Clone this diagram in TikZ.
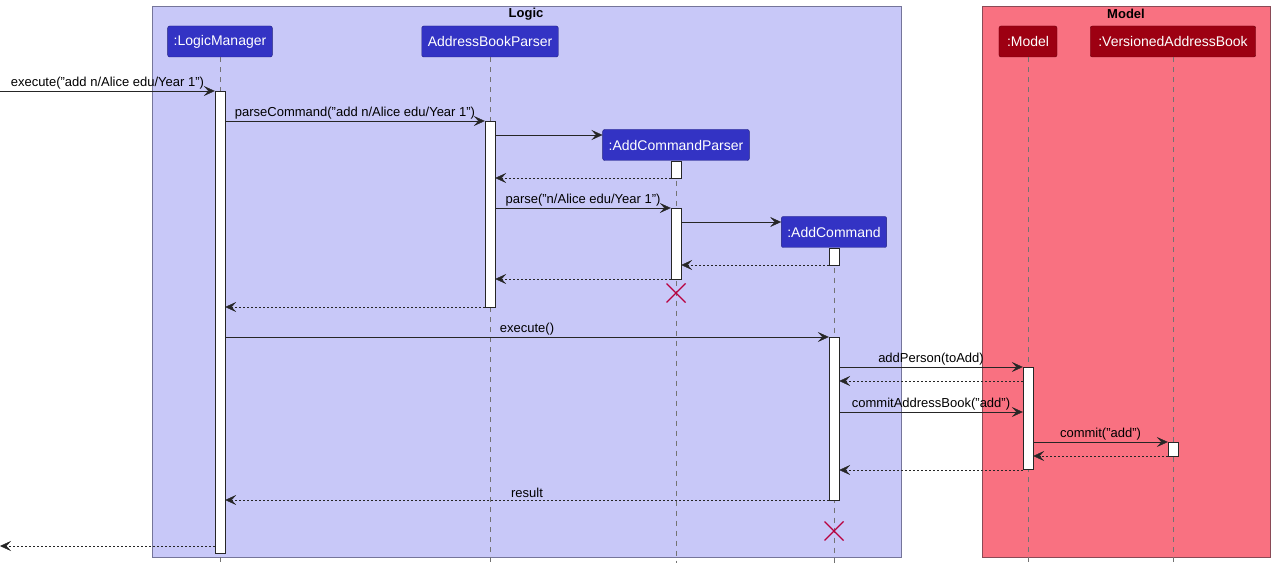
\documentclass[tikz,border=0pt]{standalone}
\usepackage{fontspec}
\setmainfont{Liberation Sans}
\usetikzlibrary{arrows.meta,positioning}

\definecolor{logicBg}{HTML}{C8C8F8}
\definecolor{logicLine}{HTML}{75759A}
\definecolor{logicPart}{HTML}{3333C4}
\definecolor{logicPartLine}{HTML}{20207E}
\definecolor{modelBg}{HTML}{F97181}
\definecolor{modelLine}{HTML}{8A4A56}
\definecolor{modelPart}{HTML}{9D0012}
\definecolor{modelPartLine}{HTML}{6A000C}
\definecolor{xRed}{HTML}{B8003E}

\tikzset{
  part/.style={text=white, rounded corners=2pt, minimum height=31pt, inner xsep=6pt,
    font=\fontsize{14}{16}\selectfont},
  lpart/.style={part, fill=logicPart, draw=logicPartLine},
  mpart/.style={part, fill=modelPart, draw=modelPartLine, inner xsep=8pt},
  act/.style={draw=black!85, fill=white, minimum width=10pt, inner sep=0pt, anchor=north},
  life/.style={draw=black!55, dash pattern=on 5pt off 5pt},
  msg/.style={draw=black!85, -{Stealth[length=11pt,width=10pt,inset=4.5pt]}},
  ret/.style={msg, dash pattern=on 2pt off 2pt},
  lbl/.style={above, font=\fontsize{13}{15}\selectfont, inner sep=2pt},
  destroy/.style={draw=xRed, line width=1.4pt},
  grptitle/.style={font=\bfseries\fontsize{13}{15}\selectfont}
}

\begin{document}
\begin{tikzpicture}[x=1pt,y=-1pt]
\useasboundingbox (0,0) rectangle (1275,569);

% groups
\draw[fill=logicBg, draw=logicLine] (152,6) rectangle (901,557);
\draw[fill=modelBg, draw=modelLine] (982,6) rectangle (1270,557);
\node[grptitle] (logicT) at (526,14) {Logic};
\node[grptitle] (modelT) at (1126,14) {Model};

% participants
\node[lpart] (lm) at (220,41.5) {:LogicManager};
\node[lpart] (abp) at (490,41.5) {AddressBookParser};
\node[lpart] (acp) at (676,145) {:AddCommandParser};
\node[lpart] (ac) at (834,232) {:AddCommand};
\node[mpart] (m) at (1028,41.5) {:Model};
\node[mpart] (vab) at (1173,41.5) {:VersionedAddressBook};

% lifelines
\foreach \p in {lm,abp,acp,ac,m,vab}
  \draw[life] (\p.south) -- (\p.south |- 0,563);

% activations
\node[act, minimum height=462pt] (lmAct) at (220,91) {};
\node[act, minimum height=186pt] (abpAct) at (490,121) {};
\node[act, minimum height=17pt] (acpAct1) at (676,161) {};
\node[act, minimum height=71pt] (acpAct2) at (676,208) {};
\node[act, minimum height=17pt] (acAct1) at (834,248) {};
\node[act, minimum height=163pt] (acAct2) at (834,337) {};
\node[act, minimum height=102pt] (mAct) at (1028,367) {};
\node[act, minimum height=14pt] (vabAct) at (1173,442) {};

\coordinate (in) at (0,91);
\coordinate (out) at (0,546);

% messages
\draw[msg] (in) -- node[lbl] {execute("add n/Alice edu/Year 1")} (lmAct.west |- in);
\draw[msg] (lmAct.east |- 0,121) -- node[lbl] {parseCommand("add n/Alice edu/Year 1")} (abpAct.west |- 0,121);
\draw[msg] (abpAct.east |- 0,135) -- (acp.west |- 0,135);
\draw[ret] (acpAct1.west |- 0,178) -- (abpAct.east |- 0,178);
\draw[msg] (abpAct.east |- 0,208) -- node[lbl] {parse("n/Alice edu/Year 1")} (acpAct2.west |- 0,208);
\draw[msg] (acpAct2.east |- 0,222) -- (ac.west |- 0,222);
\draw[ret] (acAct1.west |- 0,265) -- (acpAct2.east |- 0,265);
\draw[ret] (acpAct2.west |- 0,279) -- (abpAct.east |- 0,279);
\draw[ret] (abpAct.west |- 0,307) -- (lmAct.east |- 0,307);
\draw[msg] (lmAct.east |- 0,337) -- node[lbl] {execute()} (acAct2.west |- 0,337);
\draw[msg] (acAct2.east |- 0,367) -- node[lbl] {addPerson(toAdd)} (mAct.west |- 0,367);
\draw[ret] (mAct.west |- 0,381) -- (acAct2.east |- 0,381);
\draw[msg] (acAct2.east |- 0,412) -- node[lbl] {commitAddressBook("add")} (mAct.west |- 0,412);
\draw[msg] (mAct.east |- 0,442) -- node[lbl] {commit("add")} (vabAct.west |- 0,442);
\draw[ret] (vabAct.west |- 0,456) -- (mAct.east |- 0,456);
\draw[ret] (mAct.west |- 0,470) -- (acAct2.east |- 0,470);
\draw[ret] (acAct2.west |- 0,500) -- node[lbl] {result} (lmAct.east |- 0,500);
\draw[ret] (lmAct.west |- out) -- (out);

% destroyed
\foreach \x/\y in {676/293, 834/531}
  \draw[destroy] (\x-9.5,\y-9.5) -- (\x+9.5,\y+9.5) (\x-9.5,\y+9.5) -- (\x+9.5,\y-9.5);
\end{tikzpicture}
\end{document}
